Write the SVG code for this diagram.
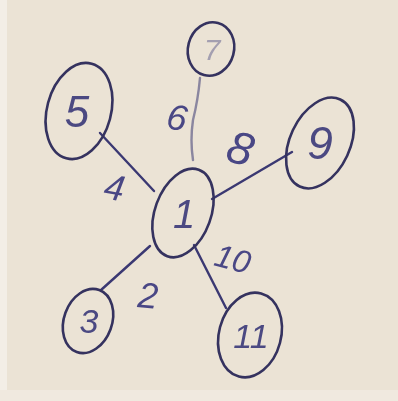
<svg xmlns="http://www.w3.org/2000/svg" width="398" height="401" viewBox="0 0 398 401">
<defs>
<filter id="soft" x="-10%" y="-10%" width="120%" height="120%"><feGaussianBlur stdDeviation="0.7"/></filter>
<style>
.node{fill:none;stroke:#34325e;stroke-width:2.6}
.edge{fill:none;stroke:#3a3872;stroke-width:2.4;stroke-linecap:round}
.lbl{font-family:"Liberation Sans",sans-serif;font-style:italic;fill:#4a4785;text-anchor:middle}
.nl{font-family:"Liberation Sans",sans-serif;font-style:italic;fill:#4c4a82;text-anchor:middle}
</style>
</defs>
<rect width="398" height="401" fill="#ebe3d5"/>
<rect x="0" y="0" width="7" height="401" fill="#f3eee6"/>
<rect x="0" y="390" width="398" height="11" fill="#f0e9df"/>
<g filter="url(#soft)">
<g id="connectors">
<path class="edge" d="M100,133 L154,191"/>
<path class="edge" d="M200,78 Q198,100 193,120 Q190,140 193,160" stroke-opacity="0.55"/>
<path class="edge" d="M212,199 L292,152"/>
<path class="edge" d="M150,246 L101,290"/>
<path class="edge" d="M194,245 L226,308"/>
<text class="lbl" x="114" y="200" font-size="36" transform="rotate(10 114 190)">4</text>
<text class="lbl" x="177" y="130" font-size="36" transform="rotate(10 177 118)">6</text>
<text class="lbl" x="240" y="164" font-size="46" transform="rotate(15 240 150)">8</text>
<text class="lbl" x="148" y="308" font-size="36" transform="rotate(5 148 295)">2</text>
<text class="lbl" x="233" y="270" font-size="32" transform="rotate(15 233 258)">10</text>
</g>
<g id="node1">
<ellipse class="node" cx="183" cy="213" rx="28" ry="46" transform="rotate(20 183 213)"/>
<text class="nl" x="184" y="228" font-size="40">1</text>
</g>
<g id="node5">
<ellipse class="node" cx="79" cy="111" rx="32" ry="49" transform="rotate(15 79 111)"/>
<text class="nl" x="77" y="127" font-size="44">5</text>
</g>
<g id="node7">
<ellipse class="node" cx="211" cy="49" rx="23" ry="27" transform="rotate(15 211 49)"/>
<text class="nl" x="212" y="60" font-size="30" fill-opacity="0.45">7</text>
</g>
<g id="node9">
<ellipse class="node" cx="320" cy="143" rx="30" ry="48" transform="rotate(25 320 143)"/>
<text class="nl" x="320" y="159" font-size="46">9</text>
</g>
<g id="node3">
<ellipse class="node" cx="88" cy="321" rx="24" ry="33" transform="rotate(20 88 321)"/>
<text class="nl" x="89" y="333" font-size="34">3</text>
</g>
<g id="node11">
<ellipse class="node" cx="250" cy="335" rx="31" ry="43" transform="rotate(15 250 335)"/>
<text class="nl" x="251" y="348" font-size="34">11</text>
</g>
</g>
</svg>
